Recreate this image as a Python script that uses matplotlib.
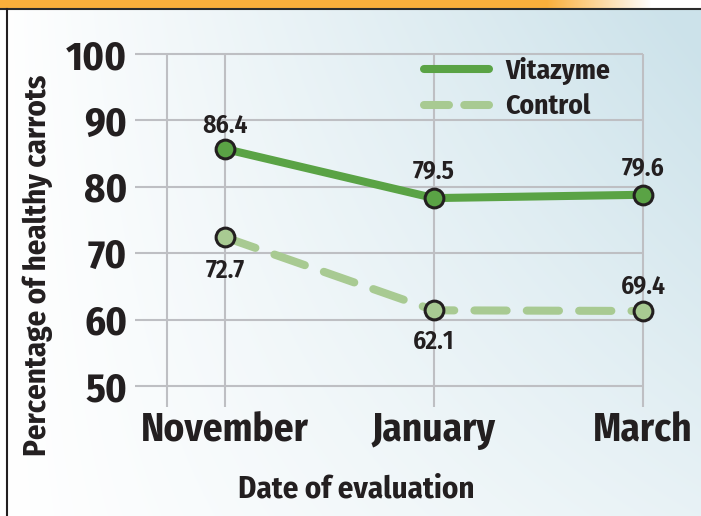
import numpy as np
import matplotlib.pyplot as plt
from matplotlib import font_manager
from matplotlib.lines import Line2D

# data (marker positions) and the printed labels
months = ["November", "January", "March"]
vitazyme = [85.7, 78.3, 78.8]
control = [72.4, 61.4, 61.3]
vitazyme_labels = ["86.4", "79.5", "79.6"]
control_labels = ["72.7", "62.1", "69.4"]
y_ticks = [50, 60, 70, 80, 90, 100]

# label offsets in points (positive = above the marker)
vitazyme_offsets = [17, 19, 19]
control_offsets = [-24, -23, 18]

# a condensed bold face, closest to the original one
names = {f.name for f in font_manager.fontManager.ttflist}
FONT = 'DejaVu Sans'
for cand in ['Fira Sans Condensed', 'PT Sans Narrow', 'Open Sans Condensed',
             'Asap Condensed', 'Barlow Semi Condensed', 'Archivo Narrow',
             'Liberation Sans']:
    if cand in names:
        FONT = cand
        break
plt.rcParams['font.family'] = [FONT, 'DejaVu Sans']
plt.rcParams['font.weight'] = 'bold'

TEXT = '#231F20'
GREEN = '#5AA345'
LIGHT = '#A8CA92'
GRID = '#BEBFC3'

W, H = 701, 516
fig = plt.figure(figsize=(W / 100, H / 100), dpi=100)

# scale all font sizes so "November" comes out ~160 px wide
probe = fig.text(0, 0, 'November', fontsize=29)
fig.canvas.draw()
k = 160 / probe.get_window_extent().width
probe.remove()

# background: white to pale blue, orange band on top
yy, xx = np.mgrid[0:H, 0:W]
xf = xx / (W - 1)
yf = 1 - yy / (H - 1)
t = np.clip(xf * (0.45 + 0.6 * yf), 0, 1)[..., None]
white = np.ones(3)
blue = np.array([0xCC, 0xE2, 0xEA]) / 255
img = white * (1 - t) + blue * t
band = yy < 8
ft = np.clip((xf - 0.78) / 0.15, 0, 1)[..., None]
orange = np.array([0xFA, 0xAF, 0x3B]) / 255
img[band] = (orange * (1 - ft) + white * ft)[band]
img[(xx < 6) & ~band] = 1

bg = fig.add_axes([0, 0, 1, 1], zorder=-10)
bg.imshow(img, extent=(0, 1, 0, 1), aspect='auto', interpolation='bilinear')
bg.axis('off')

fig.add_artist(Line2D([0, 1], [1 - 9 / H] * 2, color='#2b2b2b', lw=1.5,
                      transform=fig.transFigure))
fig.add_artist(Line2D([7 / W] * 2, [0, 1 - 9 / H], color=TEXT, lw=1.5,
                      transform=fig.transFigure))

ax = fig.add_axes([135 / W, 1 - 407 / H, 508 / W, 353 / H])
ax.set_facecolor('none')
x = np.arange(len(months))
x_lo, y_lo = -0.4306, 46.84
ax.set_xlim(x_lo, x[-1])
ax.set_ylim(y_lo, y_ticks[-1])

# grid drawn by hand so the vertical lines hang below the 50 line
ax.hlines(y_ticks, x_lo, x[-1], color=GRID, lw=1.5, zorder=1, clip_on=False)
ax.vlines([-0.2775] + list(x), y_lo, y_ticks[-1], color=GRID, lw=1.5,
          zorder=1, clip_on=False)

for s in ax.spines.values():
    s.set_visible(False)
ax.set_yticks(y_ticks)
ax.set_xticks(x, months)
ax.tick_params(axis='y', length=0, pad=5.5, labelsize=31.5 * k, labelcolor=TEXT)
ax.tick_params(axis='x', length=0, pad=3, labelsize=30.5 * k, labelcolor=TEXT)

ax.plot(x, vitazyme, color=GREEN, lw=5.8, solid_capstyle='round',
        zorder=3, clip_on=False)
ax.plot(x, vitazyme, 'o', ms=13.5, mfc=GREEN, mec=TEXT, mew=2.2,
        zorder=5, clip_on=False)
ax.plot(x, control, color=LIGHT, lw=5.8, dashes=(4, 2.5),
        dash_capstyle='round', zorder=3, clip_on=False)
ax.plot(x, control, 'o', ms=13.5, mfc=LIGHT, mec=TEXT, mew=2.2,
        zorder=5, clip_on=False)

for xi, v, lab, off in zip(x, vitazyme, vitazyme_labels, vitazyme_offsets):
    ax.annotate(lab, (xi, v), xytext=(0, off), textcoords='offset points',
                ha='center', va='center', fontsize=20 * k, color=TEXT,
                fontweight='semibold')
for xi, v, lab, off in zip(x, control, control_labels, control_offsets):
    ax.annotate(lab, (xi, v), xytext=(0, off), textcoords='offset points',
                ha='center', va='center', fontsize=20 * k, color=TEXT,
                fontweight='semibold')

leg_fs = 21.5 * k
leg_px = leg_fs * 100 / 72
h1 = Line2D([], [], color=GREEN, lw=5.8, solid_capstyle='round')
h2 = Line2D([], [], color=LIGHT, lw=5.8, dashes=(3.1, 1.9), dash_capstyle='round')
leg = ax.legend([h1, h2], ['Vitazyme', 'Control'], loc='upper left',
                bbox_to_anchor=(424 / W, 1 - 57 / H), bbox_transform=fig.transFigure,
                frameon=False, fontsize=leg_fs, handlelength=65 / leg_px,
                handletextpad=16 / leg_px, labelspacing=0.3, borderpad=0,
                borderaxespad=0)
for txt in leg.get_texts():
    txt.set_color(TEXT)

fig.text(356 / W, 1 - 497 / H, 'Date of evaluation', ha='center', va='baseline',
         fontsize=24 * k, color=TEXT)
fig.text(46 / W, 1 - 265 / H, 'Percentage of healthy carrots', rotation=90,
         rotation_mode='anchor', ha='center', va='baseline', fontsize=24 * k,
         color=TEXT)

fig.savefig('out.png', dpi=100)
